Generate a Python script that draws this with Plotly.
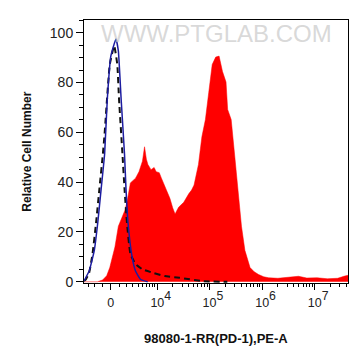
import numpy as np
import plotly.graph_objects as go

# ---- data (x in display units of the biexponential-like axis, y = relative cell number) ----
red_pos = [2.614, 2.869, 2.967, 3.045, 3.104, 3.202, 3.267, 3.333, 3.388, 3.431, 3.467, 3.496,
           3.594, 3.659, 3.725, 3.765, 3.800, 3.829, 3.888, 3.947, 3.986, 4.045, 4.084, 4.143,
           4.182, 4.247, 4.300, 4.345, 4.412, 4.510, 4.608, 4.659, 4.706, 4.790, 4.855, 4.922,
           4.986, 5.051, 5.118, 5.182, 5.247, 5.314, 5.345, 5.412, 5.476, 5.541, 5.608, 5.673,
           5.771, 5.850, 5.933, 6.030, 6.124, 6.300, 6.555, 6.692, 6.849, 7.045, 7.241, 7.437,
           7.555, 7.633]
red_count = [0.0, 0.0, 0.7, 2.4, 5.7, 14.0, 22.3, 25.7, 28.5, 31.9, 36.8, 39.7,
             41.6, 44.2, 48.4, 54.2, 49.2, 47.1, 45.0, 45.9, 44.2, 43.8, 41.7, 38.8,
             36.8, 33.5, 29.7, 27.2, 29.9, 31.9, 35.4, 36.8, 38.8, 47.1, 58.2, 65.1,
             76.1, 87.2, 90.2, 90.6, 84.4, 80.2, 69.2, 65.1, 51.3, 37.5, 22.3, 12.6,
             5.7, 4.0, 2.9, 2.0, 1.6, 1.4, 1.8, 2.2, 1.5, 1.6, 1.2, 1.4,
             2.2, 2.6]

blue_pos = [2.614, 2.647, 2.712, 2.810, 2.875, 2.941, 3.006, 3.057, 3.124, 3.222, 3.267,
            3.320, 3.384, 3.412, 3.451, 3.529, 3.594, 3.692, 3.824]
blue_count = [0.3, 1.6, 4.3, 12.6, 23.6, 37.5, 51.3, 73.3, 90.6, 97.5, 92.7,
              73.3, 51.3, 37.5, 23.6, 9.9, 4.3, 0.9, 0.0]

dash_pos = [2.614, 2.647, 2.712, 2.776, 2.843, 2.908, 2.973, 3.006, 3.104, 3.188, 3.247,
            3.280, 3.345, 3.384, 3.431, 3.496, 3.594, 3.725, 3.922, 4.149, 4.431, 4.888, 5.339]
dash_count = [0.3, 0.9, 3.6, 11.2, 23.6, 37.5, 51.3, 59.5, 87.2, 94.7, 87.2,
              73.3, 51.3, 37.5, 23.6, 11.2, 7.1, 5.0, 3.6, 2.3, 1.6, 0.2, 0.0]

x_major_values = [0, 1e4, 1e5, 1e6, 1e7]
x_major_exps = [None, 4, 5, 6, 7]
y_ticks = [0, 20, 40, 60, 80, 100]

X_RANGE = [2.614, 7.633]
Y_RANGE = [-0.5, 105.1]
C = 1330.0


def to_pos(v):
    v = np.asarray(v, dtype=float)
    return np.arcsinh(v / (2 * C)) / np.log(10) + np.log10(C)


def label(e):
    if e is None:
        return "<span style='font-size:12.5px'>0</span>"
    ghost = "<span style='font-size:12.5px;fill:rgba(0,0,0,0)'>%d</span>" % e
    return ghost + "<span style='font-size:12.5px'>10</span><sup>%d</sup>" % e


x_major_labels = [label(e) for e in x_major_exps]

minor_raw = [-3000, -2000, -1000] + [1000 * k for k in range(1, 10)]
for d in range(4, 8):
    for k in range(2, 10):
        minor_raw.append(k * 10 ** d)
minor_pos = [float(p) for p in to_pos(minor_raw) if X_RANGE[0] <= p <= X_RANGE[1]]

FONT = "Liberation Sans, Arial, sans-serif"

fig = go.Figure()
fig.add_trace(go.Scatter(x=red_pos, y=red_count, mode="lines", fill="tozeroy",
                         fillcolor="#ff0000", line=dict(color="#ff0000", width=0.5),
                         hoverinfo="skip", showlegend=False))
fig.add_trace(go.Scatter(x=dash_pos, y=dash_count, mode="lines",
                         line=dict(color="#111111", width=2, dash="6px,4px", shape="spline", smoothing=0.4),
                         hoverinfo="skip", showlegend=False))
fig.add_trace(go.Scatter(x=blue_pos, y=blue_count, mode="lines",
                         line=dict(color="#1c1ca0", width=1.5, shape="spline", smoothing=0.4),
                         hoverinfo="skip", showlegend=False))

# the page body adds an 8px offset, so margins are reduced accordingly
fig.update_layout(
    width=353, height=348,
    margin=dict(l=76, r=13, t=12, b=73, autoexpand=False),
    paper_bgcolor="white", plot_bgcolor="white",
    font=dict(family=FONT, color="#222222"),
    showlegend=False,
    xaxis=dict(range=X_RANGE, showgrid=False, zeroline=False,
               showline=True, linecolor="black", linewidth=1, mirror=True,
               ticks="outside", ticklen=6, tickwidth=1, tickcolor="black",
               tickvals=[float(p) for p in to_pos(x_major_values)], ticktext=x_major_labels,
               tickfont=dict(size=17.5, family=FONT, color="#222222"),
               ticklabelstandoff=-4,
               minor=dict(tickvals=minor_pos, ticks="outside", ticklen=3, tickcolor="black", tickwidth=1)),
    yaxis=dict(range=Y_RANGE, showgrid=False, zeroline=False,
               showline=True, linecolor="black", linewidth=1, mirror=True,
               ticks="outside", ticklen=7, tickwidth=1, tickcolor="black",
               tickvals=y_ticks,
               tickfont=dict(size=14, family=FONT, color="#222222"),
               minor=dict(dtick=5, ticks="outside", ticklen=4, tickcolor="black", tickwidth=1)),
    annotations=[
        dict(text="WWW.PTGLAB.COM", xref="paper", yref="paper", x=0.5, y=0.949,
             xanchor="center", yanchor="middle", showarrow=False,
             font=dict(size=24, family=FONT, color="rgba(200,200,200,0.7)")),
        dict(text="<b>Relative Cell Number</b>", xref="paper", yref="paper", x=-0.219, y=0.5,
             xanchor="center", yanchor="middle", textangle=-90, showarrow=False,
             font=dict(size=12, family=FONT, color="#111111")),
        dict(text="<b>98080-1-RR(PD-1),PE-A</b>", xref="paper", yref="paper", x=0.5, y=-0.212,
             xanchor="center", yanchor="middle", showarrow=False,
             font=dict(size=13, family=FONT, color="#111111")),
    ],
)

fig.write_html("out.html")
